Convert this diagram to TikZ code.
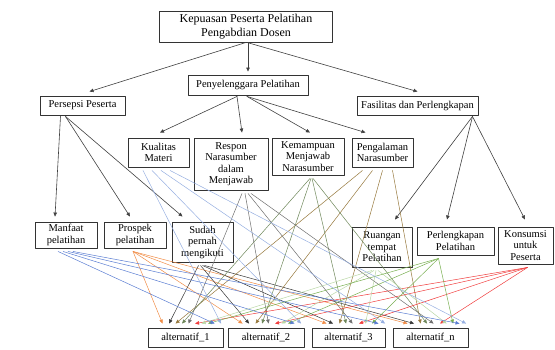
\documentclass[tikz,border=0pt]{standalone}
\usepackage{fontspec}
\setmainfont{Liberation Serif}
\usetikzlibrary{arrows.meta}

\definecolor{cKual}{RGB}{150,175,225}
\definecolor{cResp}{RGB}{110,110,110}
\definecolor{cKemp}{RGB}{110,135,90}
\definecolor{cPeng}{RGB}{150,120,60}
\definecolor{cManf}{RGB}{90,125,210}
\definecolor{cPros}{RGB}{240,140,70}
\definecolor{cSudah}{RGB}{55,55,55}
\definecolor{cRuang}{RGB}{185,215,165}
\definecolor{cPerl}{RGB}{120,175,80}
\definecolor{cKons}{RGB}{240,60,60}

\begin{document}
\begin{tikzpicture}[x=1pt,y=-1pt,line cap=round,line join=round,
  box/.style={draw=black!80,line width=0.9pt,inner sep=1pt,align=center,
    font=\fontsize{10.5}{11.5}\selectfont},
  arr/.style={-{Triangle[length=4pt,width=3.5pt]},line width=0.6pt,black!75},
  web/.style={-{Triangle[length=4pt,width=3.5pt]},line width=0.5pt}]

\useasboundingbox (0,0) rectangle (555,349);

% tujuan
\node[box,minimum width=173,minimum height=31,font=\fontsize{12}{13.5}\selectfont]
  (goal) at (246,26.5) {Kepuasan Peserta Pelatihan\\Pengabdian Dosen};

% kriteria
\node[box,minimum width=85,minimum height=19]  (pers) at (82.5,105.5) {Persepsi Peserta};
\node[box,minimum width=120,minimum height=20] (peny) at (248,85) {Penyelenggara Pelatihan};
\node[box,minimum width=121,minimum height=19] (fas)  at (417.5,105.5) {Fasilitas dan Perlengkapan};

% sub kriteria
\node[box,minimum width=61,minimum height=29] (kual) at (158.5,152.5) {Kualitas\\Materi};
\node[box,minimum width=74,minimum height=52] (resp) at (231,164) {Respon\\Narasumber\\dalam\\Menjawab};
\node[box,minimum width=72,minimum height=37] (kemp) at (308,156.5) {Kemampuan\\Menjawab\\Narasumber};
\node[box,minimum width=61,minimum height=29] (peng) at (382.5,152.5) {Pengalaman\\Narasumber};
\node[box,minimum width=62,minimum height=26] (manf) at (66,235) {Manfaat\\pelatihan};
\node[box,minimum width=62,minimum height=26] (pros) at (135,235) {Prospek\\pelatihan};
\node[box,minimum width=61,minimum height=40] (sudah) at (202.5,242) {Sudah\\pernah\\mengikuti};
\node[box,minimum width=60,minimum height=40] (ruang) at (382,247) {Ruangan\\tempat\\Pelatihan};
\node[box,minimum width=77,minimum height=28] (perl) at (455.5,241) {Perlengkapan\\Pelatihan};
\node[box,minimum width=55,minimum height=37] (kons) at (525.5,245.5) {Konsumsi\\untuk\\Peserta};

% alternatif
\node[box,minimum width=75,minimum height=19] (alt1) at (185.5,337.5) {alternatif\_1};
\node[box,minimum width=76,minimum height=19] (alt2) at (266,337.5) {alternatif\_2};
\node[box,minimum width=73,minimum height=19] (alt3) at (348.5,337.5) {alternatif\_3};
\node[box,minimum width=75,minimum height=19] (altn) at (430.5,337.5) {alternatif\_n};

% panah tujuan -> kriteria
\draw[arr] (goal.south) -- ([xshift=7,yshift=4]pers.north);
\draw[arr] ([xshift=2]goal.south) -- ([yshift=3]peny.north);
\draw[arr] ([xshift=1]goal.south) -- ([yshift=4]fas.north);

% panah kriteria -> sub kriteria
\draw[arr] ([xshift=-11,yshift=-1]peny.south) -- ([xshift=1.5,yshift=5]kual.north);
\draw[arr] ([xshift=-11,yshift=-1]peny.south) -- ([xshift=11,yshift=5]resp.north);
\draw[arr] ([xshift=-1,yshift=-1]peny.south) -- ([xshift=2,yshift=5]kemp.north);
\draw[arr] ([xshift=-1,yshift=-1]peny.south) -- ([xshift=-17,yshift=5]peng.north);
\draw[arr] ([xshift=-22,yshift=-1]pers.south) -- ([xshift=-11,yshift=5]manf.north);
\draw[arr] ([xshift=-17,yshift=-1]pers.south) -- ([xshift=-5,yshift=5]pros.north);
\draw[arr] ([xshift=-17,yshift=-1]pers.south) -- ([xshift=-20,yshift=5]sudah.north);
\draw[arr] ([xshift=55,yshift=-1]fas.south) -- ([xshift=13,yshift=7]ruang.north);
\draw[arr] ([xshift=55,yshift=-1]fas.south) -- ([xshift=-8.5,yshift=7]perl.north);
\draw[arr] ([xshift=55,yshift=-1]fas.south) -- ([xshift=-0.5,yshift=7]kons.north);

% sub kriteria -> alternatif (warna per sub kriteria)
\foreach \src/\col/\dx/\sp/\k in {pros/cPros/-2/0/0, sudah/cSudah/-4/2/1,
    peng/cPeng/-20/10/2, kemp/cKemp/2/1/3, resp/cResp/11/3/4,
    kons/cKons/2/0/5, ruang/cRuang/-10/2/6, perl/cPerl/-17/0/7,
    manf/cManf/-8/5/8, kual/cKual/-15.5/9/9}{
  \foreach \alt/\j in {alt1/0,alt2/1,alt3/2,altn/3}{
    \draw[web,\col] ([xshift={\dx+\j*\sp},yshift=-3]\src.south)
      -- ([xshift={15+6.5*\k},yshift=4]\alt.north west);
  }
}

\end{tikzpicture}
\end{document}
